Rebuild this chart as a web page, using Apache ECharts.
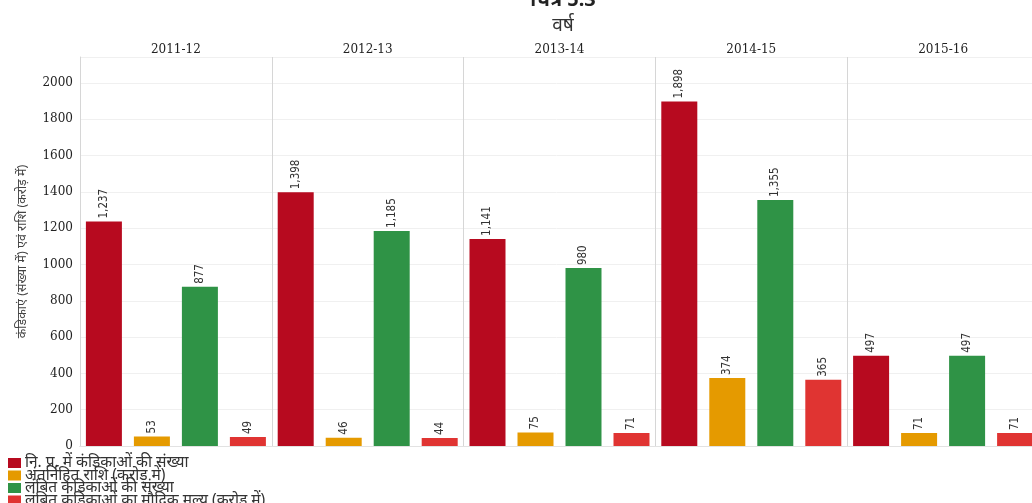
<!DOCTYPE html>
<html><head><meta charset="utf-8">
<script src="https://cdn.jsdelivr.net/npm/echarts@6/dist/echarts.min.js"></script>
<style>html,body{margin:0;padding:0;background:#fff;}#c{width:1032px;height:503px;}</style>
</head><body><div id="c"></div>
<script>
const years = ['2011-12','2012-13','2013-14','2014-15','2015-16'];
const seriesNames = ['नि. प्र. में कंडिकाओं की संख्या','अंतर्निहित राशि (करोड़ में)','लंबित कंडिकाओं की संख्या','लंबित कंडिकाओं का मौद्रिक मूल्य (करोड़ में)'];
const paraCount = [1237, 1398, 1141, 1898, 497];
const inherentAmount = [53, 46, 75, 374, 71];
const pendingCount = [877, 1185, 980, 1355, 497];
const pendingValue = [49, 44, 71, 365, 71];
const yTicks = [0,200,400,600,800,1000,1200,1400,1600,1800,2000];
const colors = ['#b70a1f','#e59a00','#2f9346','#e03432'];
const allData = [paraCount, inherentAmount, pendingCount, pendingValue];

const chart = echarts.init(document.getElementById('c'));
const fontDev = "'Noto Sans', 'Noto Sans Devanagari', 'Lohit Devanagari', sans-serif";
const fontSerif = "'DejaVu Serif', 'Liberation Serif', serif";
const legendTops = [455, 467.5, 480, 492.5];
chart.setOption({
  animation: false,
  title: [
    {text: 'चित्र 5.3', left: 558, top: -15, textAlign: 'center',
     textStyle: {fontSize: 20, fontWeight: 'bold', color: '#222', fontFamily: fontDev}},
    {text: 'वर्ष', left: 558, top: 11, textAlign: 'center',
     textStyle: {fontSize: 19, fontWeight: 'normal', color: '#333', fontFamily: fontDev}}
  ],
  legend: seriesNames.map((n, i) => ({
    orient: 'vertical', left: 8, top: legendTops[i], itemWidth: 13, itemHeight: 10, itemGap: 0,
    icon: 'rect', padding: 0,
    textStyle: {fontSize: 15.5, color: '#333', fontFamily: fontDev, padding: [0,0,0,-1], lineHeight: 12},
    data: [n]
  })),
  grid: {left: 80, top: 57, width: 959, height: 389, containLabel: false, outerBoundsMode: 'none'},
  xAxis: [
    {type: 'category', data: years, position: 'top',
     axisLine: {show: true, lineStyle: {color: '#d6d6d6'}},
     axisTick: {show: true, length: 13, lineStyle: {color: '#d6d6d6'}},
     axisLabel: {color: '#222', fontSize: 12, fontFamily: fontSerif, margin: 1},
     splitLine: {show: true, lineStyle: {color: '#d6d6d6'}}
    },
    {type: 'category', data: years, position: 'bottom',
     axisLine: {show: true, lineStyle: {color: '#e2e2e2'}},
     axisTick: {show: false}, axisLabel: {show: false}, splitLine: {show: false}}
  ],
  yAxis: {
    type: 'value', min: 0, max: 2143, interval: 200,
    name: 'कंडिकाएं (संख्या में) एवं राशि (करोड़ में)', nameLocation: 'middle', nameGap: 51,
    nameTextStyle: {fontSize: 12.5, color: '#444', fontFamily: fontDev},
    axisLine: {show: true, lineStyle: {color: '#d6d6d6'}},
    axisTick: {show: false},
    axisLabel: {color: '#222', fontSize: 12, fontFamily: fontSerif, margin: 7,
      showMaxLabel: false,
      formatter: v => yTicks.indexOf(v) >= 0 ? String(v) : ''},
    splitLine: {show: true, lineStyle: {color: '#f0f0f0'}}
  },
  series: allData.map((d, i) => ({
    name: seriesNames[i], type: 'bar', data: d, xAxisIndex: 0,
    barWidth: 36, barGap: '33.33%', barCategoryGap: '6.25%',
    itemStyle: {color: colors[i]},
    label: {show: true, position: 'top', rotate: 90, align: 'left', verticalAlign: 'middle', distance: 3,
      fontSize: 11.5, color: '#333', fontFamily: "'Liberation Sans Narrow', 'DejaVu Sans Condensed', sans-serif",
      formatter: p => p.value.toLocaleString('en-US')}
  }))
});
</script></body></html>
